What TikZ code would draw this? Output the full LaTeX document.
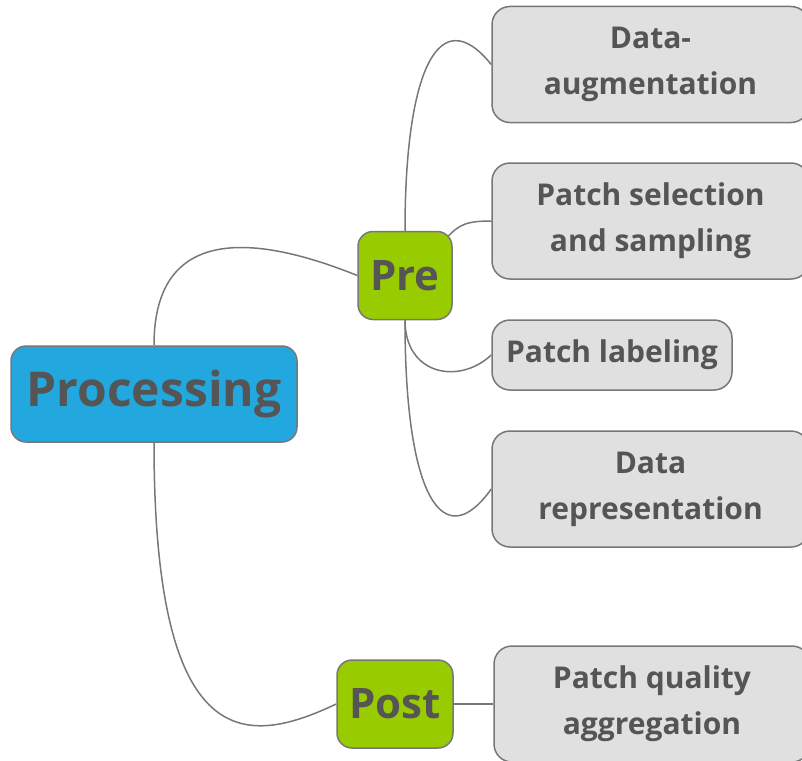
\documentclass[tikz,border=0pt]{standalone}
\usepackage{fontspec}
\setmainfont{Open Sans}
\usetikzlibrary{positioning, backgrounds}

\definecolor{txtgray}{HTML}{555555}
\definecolor{edgegray}{HTML}{777777}
\definecolor{procblue}{HTML}{22A8DF}
\definecolor{stagegreen}{HTML}{99CC00}
\definecolor{leafgray}{HTML}{E0E0E0}

\begin{document}
\begin{tikzpicture}[x=1pt, y=-1pt,
    box/.style={draw=edgegray, line width=1.5pt, text=txtgray, font=\bfseries, inner sep=0pt, align=center},
    rootbox/.style={box, fill=procblue, rounded corners=15pt, minimum width=286pt, minimum height=96pt, font=\bfseries\fontsize{48}{56}\selectfont},
    stagebox/.style={box, fill=stagegreen, rounded corners=15pt, minimum height=88pt, font=\bfseries\fontsize{42}{50}\selectfont},
    leafbox/.style={box, fill=leafgray, rounded corners=18pt, minimum height=116pt, font=\bfseries\fontsize{30}{46}\selectfont},
    link/.style={draw=edgegray, line width=1.5pt}]
    \clip (0,0) rectangle (802,760);

    \node[rootbox] (proc) at (154, 394) {Processing};
    \node[stagebox, minimum width=94pt] (pre) at (405, 275.5) {Pre};
    \node[stagebox, minimum width=116pt] (post) at (395, 704) {Post};

    \node[leafbox, minimum width=317pt] (aug) at (650.5, 64.5) {Data-\\augmentation};
    \node[leafbox, minimum width=317pt] (sel) at (650.5, 221) {Patch selection\\and sampling};
    \node[leafbox, minimum width=240pt, minimum height=70pt] (lab) at (612, 355) {Patch labeling};
    \node[leafbox, minimum width=317pt] (rep) at (650.5, 489) {Data\\representation};
    \node[leafbox, minimum width=316pt] (qual) at (652, 704) {Patch quality\\aggregation};

    \begin{scope}[on background layer]
        \draw[link] (proc.north) .. controls +(0,-126) and +(-93,-37.5) .. (pre.west);
        \draw[link] (proc.south) .. controls +(0,318) and +(-87,41) .. (post.west);
        \draw[link] (pre.north) .. controls +(0,-161) and +(-52,-64.5) .. (aug.west);
        \draw[link] ([shift={(-6,7)}]pre.north east) .. controls +(12,-13) and +(-25,0) .. (sel.west);
        \draw[link] (pre.south) .. controls +(0,55) and +(-32,30) .. (lab.west);
        \draw[link] (pre.south) .. controls +(0,180) and +(-47,66) .. (rep.west);
        \draw[link] (post.east) -- (qual.west);
    \end{scope}
\end{tikzpicture}
\end{document}
